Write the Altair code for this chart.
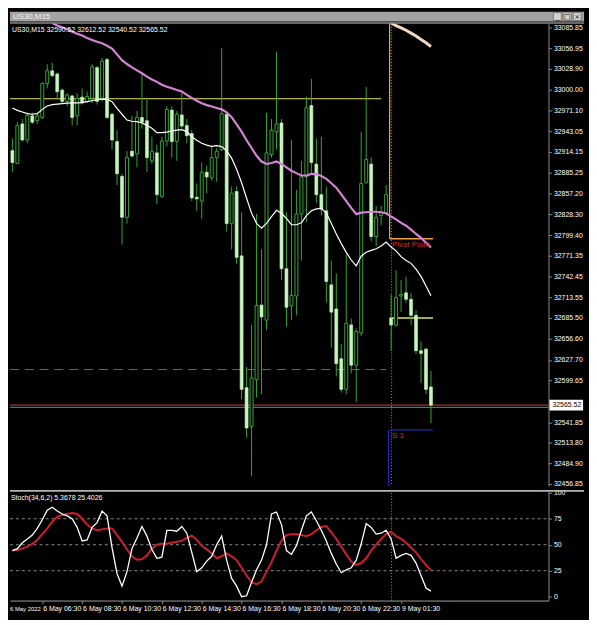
import altair as alt
import pandas as pd

# ---------------- data ----------------
bars = list(range(85))  # 15-minute bars: 6 May 05:00 ... 23:45, 9 May 01:00 ... 03:00

opens = [32916.1, 32898.4, 32952.9, 32930.7, 32964.0, 32957.3, 32961.8, 33008.4, 33026.1, 33021.7,
         32999.5, 32983.9, 32991.5, 32964.0, 32989.8, 32983.9, 32988.4, 33030.4, 32988.4, 33041.6,
         32966.2, 32928.6, 32880.7, 32824.3, 32915.3, 32911.7, 32961.8, 32957.3, 32902.0, 32913.0,
         32853.2, 32929.4, 32971.9, 32928.6, 32965.3, 32950.7, 32939.6, 32851.9, 32846.5, 32886.4,
         32878.8, 32906.4, 32917.4, 32966.2, 32815.5, 32859.8, 32771.1, 32589.5, 32536.3, 32600.5,
         32703.3, 32682.6, 32910.8, 32941.9, 32954.2, 32753.4, 32702.5, 32715.8, 32828.8, 32879.8,
         32978.2, 32897.5, 32855.4, 32833.2, 32731.2, 32698.0, 32629.4, 32587.2, 32676.0, 32620.5,
         32664.8, 32871.8, 32897.5, 32797.7, 32826.6, 32831.0, 32684.7, 32675.9, 32715.8, 32720.2,
         32711.3, 32689.2, 32640.4, 32642.7, 32590.52]
highs = [32933.0, 32955.2, 32959.6, 32968.5, 32968.5, 32968.5, 33010.5, 33035.0, 33037.1, 33023.8,
         33001.7, 32995.1, 32992.8, 32995.1, 33001.7, 32997.2, 33035.0, 33032.7, 33043.7, 33043.7,
         32968.5, 32944.0, 32884.2, 32915.3, 32964.0, 32970.6, 33021.7, 32986.2, 32935.2, 32924.1,
         32935.2, 32977.3, 32977.3, 32970.6, 32995.1, 32959.6, 32944.0, 32870.9, 32899.7, 32895.3,
         32921.9, 32919.7, 33057.0, 32968.5, 32866.5, 32866.5, 32831.0, 32618.2, 32675.9, 32828.8,
         32780.0, 32968.5, 32959.6, 33052.6, 32959.6, 32831.0, 32930.7, 32862.1, 32902.0, 32990.5,
         33015.0, 32933.0, 32935.2, 32866.5, 32764.5, 32746.8, 32649.3, 32773.4, 32684.7, 32671.4,
         32941.9, 33003.8, 32906.4, 32839.9, 32839.9, 32868.7, 32717.9, 32751.2, 32737.9, 32742.4,
         32720.2, 32695.9, 32653.7, 32644.8, 32612.52]
lows = [32886.4, 32897.5, 32928.6, 32926.3, 32952.9, 32952.9, 32959.6, 33001.7, 33017.1, 32988.4,
        32981.8, 32977.3, 32950.7, 32950.7, 32979.5, 32981.8, 32981.8, 32979.5, 32983.9, 32959.6,
        32917.4, 32868.7, 32786.7, 32815.5, 32906.4, 32893.1, 32946.3, 32886.4, 32897.5, 32842.1,
        32850.9, 32921.9, 32906.4, 32902.0, 32946.3, 32926.3, 32846.5, 32833.2, 32822.2, 32857.6,
        32875.4, 32873.1, 32915.3, 32804.4, 32780.0, 32760.1, 32573.9, 32520.7, 32467.5, 32576.2,
        32580.6, 32669.3, 32906.4, 32917.4, 32737.9, 32673.7, 32682.6, 32689.2, 32764.5, 32817.7,
        32884.2, 32844.3, 32826.6, 32706.9, 32644.8, 32604.9, 32582.8, 32580.6, 32609.4, 32569.5,
        32660.4, 32870.9, 32791.1, 32784.4, 32813.3, 32826.6, 32640.4, 32673.7, 32693.6, 32706.9,
        32676.0, 32636.0, 32596.1, 32580.6, 32540.52]
closes = [32899.7, 32950.7, 32930.7, 32964.9, 32955.2, 32964.0, 33008.4, 33026.1, 33019.4, 32997.2,
          32983.9, 32992.8, 32961.8, 32988.4, 32981.8, 32990.5, 33031.4, 32983.9, 33039.4, 32961.8,
          32930.7, 32884.2, 32824.3, 32906.4, 32908.6, 32961.8, 32955.2, 32906.4, 32915.3, 32855.4,
          32929.4, 32972.9, 32928.6, 32966.2, 32949.9, 32936.6, 32850.9, 32849.6, 32886.4, 32879.8,
          32906.4, 32915.3, 32967.1, 32815.5, 32857.6, 32769.0, 32587.2, 32534.0, 32602.8, 32702.5,
          32687.0, 32913.0, 32944.0, 32952.9, 32753.4, 32700.3, 32716.6, 32828.8, 32879.8, 32975.1,
          32899.7, 32855.4, 32835.5, 32735.8, 32693.6, 32622.7, 32587.2, 32678.1, 32620.5, 32667.0,
          32870.9, 32904.1, 32797.7, 32824.3, 32831.0, 32855.4, 32675.9, 32713.6, 32717.9, 32711.3,
          32689.2, 32640.4, 32636.8, 32587.2, 32565.52]

ma_white = [32974.9, 32971.5, 32969.3, 32967.1, 32966.2, 32967.1, 32972.9, 32977.5, 32979.5, 32980.2,
            32980.8, 32981.5, 32981.8, 32981.8, 32982.2, 32983.5, 32984.8, 32986.2, 32987.1, 32986.8,
            32983.5, 32974.2, 32966.2, 32958.2, 32956.5, 32956.0, 32954.2, 32950.9, 32946.9, 32940.9,
            32940.9, 32941.6, 32943.2, 32944.3, 32944.9, 32942.3, 32935.2, 32930.3, 32926.3, 32923.7,
            32921.9, 32923.0, 32921.7, 32915.7, 32905.7, 32890.4, 32871.8, 32850.5, 32829.9, 32815.9,
            32809.3, 32815.9, 32825.3, 32833.9, 32829.9, 32822.6, 32814.0, 32814.0, 32816.6, 32826.6,
            32833.2, 32835.9, 32836.6, 32829.9, 32815.9, 32801.3, 32788.0, 32776.0, 32765.4, 32757.4,
            32770.7, 32776.0, 32778.7, 32781.0, 32784.7, 32790.0, 32783.4, 32778.0, 32770.1, 32764.7,
            32760.8, 32752.8, 32742.8, 32729.5, 32716.2]

ma_magenta_bars = list(range(8, 85))
ma_magenta = [33091.9, 33088.6, 33085.9, 33083.2, 33079.9, 33077.2, 33074.6, 33071.3, 33068.6, 33066.0,
              33064.0, 33060.6, 33056.6, 33048.7, 33040.7, 33035.4, 33030.7, 33026.7, 33022.7, 33018.1,
              33014.1, 33010.8, 33006.8, 33004.1, 33002.1, 32999.7, 32997.5, 32992.8, 32988.8, 32984.8,
              32981.5, 32978.8, 32976.8, 32974.9, 32972.9, 32968.9, 32962.2, 32952.3, 32942.3, 32930.3,
              32919.7, 32909.0, 32901.1, 32897.7, 32899.1, 32901.1, 32897.7, 32893.1, 32888.4, 32885.1,
              32881.8, 32881.8, 32884.0, 32883.8, 32881.1, 32877.1, 32871.1, 32865.1, 32855.8, 32846.5,
              32837.2, 32828.6, 32830.6, 32831.2, 32831.9, 32831.9, 32831.2, 32829.9, 32825.3, 32821.3,
              32816.6, 32812.6, 32807.3, 32801.3, 32796.0, 32789.3, 32782.7]

ma_beige_bars = list(range(76, 85))
ma_beige = [33091.9, 33088.2, 33085.2, 33081.9, 33077.9, 33073.9, 33069.3, 33064.6, 33059.3]

stoch_k = [44.4, 46.3, 51.9, 55.6, 59.3, 65.7, 74.1, 83.3, 86.1, 82.4,
           79.6, 77.8, 75.0, 66.7, 53.7, 54.6, 66.7, 71.3, 82.4, 77.8,
           47.2, 22.2, 10.2, 24.1, 46.3, 56.5, 67.6, 58.3, 45.4, 37.0,
           38.0, 63.9, 63.9, 63.0, 67.6, 61.1, 42.6, 24.1, 27.8, 34.3,
           38.9, 50.0, 58.3, 35.2, 17.6, 10.2, 0.0, 0.9, 13.9, 25.9,
           35.2, 50.0, 79.6, 81.5, 69.4, 44.4, 40.7, 49.1, 63.9, 77.8,
           81.5, 73.1, 63.9, 53.7, 41.7, 31.5, 23.1, 25.9, 27.8, 35.2,
           50.9, 70.4, 66.7, 60.2, 61.1, 63.9, 55.6, 37.0, 39.8, 41.7,
           39.8, 32.4, 20.4, 8.3, 5.3678]
stoch_d = [44.4, 44.9, 46.3, 48.1, 50.9, 54.6, 60.2, 65.7, 72.2, 76.9,
           78.7, 79.6, 80.6, 79.6, 75.0, 69.4, 65.7, 63.9, 64.8, 65.7,
           65.7, 59.3, 52.8, 45.4, 38.9, 35.6, 36.1, 39.8, 46.3, 50.0,
           50.9, 50.9, 51.9, 52.8, 53.7, 56.5, 58.8, 54.6, 49.1, 45.4,
           41.7, 37.0, 38.9, 41.7, 38.9, 35.2, 27.8, 20.4, 13.9, 12.0,
           14.8, 24.1, 33.3, 44.4, 53.7, 59.3, 60.2, 60.2, 59.3, 58.3,
           60.2, 63.9, 67.1, 68.0, 62.0, 55.6, 48.1, 40.7, 33.8, 30.6,
           32.4, 37.0, 44.4, 50.0, 55.6, 60.2, 62.5, 58.3, 55.6, 51.9,
           47.2, 42.6, 36.1, 30.6, 25.4026]

price_ticks = [33085.85, 33056.95, 33028.90, 33000.00, 32971.10, 32943.05, 32914.15, 32885.25,
               32857.20, 32828.30, 32799.40, 32771.35, 32742.45, 32713.55, 32685.50, 32656.60,
               32627.70, 32599.65, 32541.85, 32513.80, 32484.90, 32456.85]
stoch_ticks = [0, 25, 50, 75, 100]
stoch_levels = [25, 50, 75]

time_tick_bars = [-2, 6, 14, 22, 30, 38, 46, 54, 62, 70, 78]
time_tick_labels = ["6 May 2022", "6 May 06:30", "6 May 08:30", "6 May 10:30", "6 May 12:30",
                    "6 May 14:30", "6 May 16:30", "6 May 18:30", "6 May 20:30", "6 May 22:30",
                    "9 May 01:30"]

symbol_title = "US30,M15"
info_text = "US30,M15  32590.52 32612.52 32540.52 32565.52"
stoch_text = "Stoch(34,6,2) 5.3678 25.4026"

prev_pivot, prev_pivot_end = 32987.5, 74
green_level, green_level_end = 32614.5, 75
bid_price, ask_line = 32565.52, 32562.4
pivot_point, monday_line, s1_level = 32794.7, 32685.6, 32531.4
day_sep_bar, pivot_start_bar, pivot_end_bar = 76.1, 75.7, 84.4
pivot_label_price, s1_label_price = 32786.7, 32523.4

# ---------------- layout ----------------
W, HM, HS, HL = 545, 468, 112, 12
FULLW = W + 36
FONT = "Liberation Sans"
X_DOM = [-0.48, 107.58]
P_DOM = [32454.2, 33091.2]
S_DOM = [-3.7, 102.8]
GREEN, PALE = "#3aa23a", "#c6f5bd"

xs = alt.Scale(domain=X_DOM, nice=False, zero=False, padding=0)
ys = alt.Scale(domain=P_DOM, nice=False, zero=False, padding=0)
ss = alt.Scale(domain=S_DOM, nice=False, zero=False, padding=0)

yax_main = alt.Axis(orient="right", values=price_ticks, format=".2f", labelColor="#ffffff",
                    labelFont=FONT, labelFontSize=7, tickColor="#8a8a8a", tickSize=3,
                    domainColor="#8a8a8a", labelOverlap=False, grid=False, title=None, labelPadding=2)
yax_s = alt.Axis(orient="right", values=stoch_ticks, labelColor="#ffffff", labelFont=FONT,
                 labelFontSize=7, tickColor="#8a8a8a", tickSize=3, domainColor="#8a8a8a",
                 labelOverlap=False, grid=False, title=None, labelPadding=2)
xax_s = alt.Axis(values=time_tick_bars[1:], labels=False, ticks=True, tickSize=3,
                 tickColor="#8a8a8a", domainColor="#a0a0a0", grid=False, title=None)


def MX(f="bar"):
    return alt.X(f"{f}:Q", scale=xs, axis=None)


def MY(f):
    return alt.Y(f"{f}:Q", scale=ys, axis=yax_main)


def SX(f="bar"):
    return alt.X(f"{f}:Q", scale=xs, axis=xax_s)


def SY(f):
    return alt.Y(f"{f}:Q", scale=ss, axis=yax_s)


one = pd.DataFrame({"a": [0]})


def hseg(x0, x1, p, color, width=1.0, dash=None):
    kw = dict(color=color, strokeWidth=width)
    if dash:
        kw["strokeDash"] = dash
    d = pd.DataFrame({"x0": [x0], "x1": [x1], "p": [p]})
    return alt.Chart(d).mark_rule(**kw).encode(x=MX("x0"), x2="x1", y=MY("p"))


def vseg(xb, p0, p1, color, width=1.0, dash=None):
    kw = dict(color=color, strokeWidth=width)
    if dash:
        kw["strokeDash"] = dash
    d = pd.DataFrame({"xb": [xb], "p0": [p0], "p1": [p1]})
    return alt.Chart(d).mark_rule(**kw).encode(x=MX("xb"), y=MY("p0"), y2="p1")


cdf = pd.DataFrame({"bar": bars, "o": opens, "h": highs, "l": lows, "c": closes})
up = cdf[cdf.c >= cdf.o]
dn = cdf[cdf.c < cdf.o]

wicks = alt.Chart(cdf).mark_rule(color=GREEN, strokeWidth=1).encode(x=MX(), y=MY("l"), y2="h")
bodies_up = alt.Chart(up).mark_bar(size=3, fill="#000000", stroke=GREEN, strokeWidth=1).encode(
    x=MX(), y=MY("o"), y2="c")
bodies_dn = alt.Chart(dn).mark_bar(size=3, fill=PALE, stroke=PALE, strokeWidth=0.6).encode(
    x=MX(), y=MY("o"), y2="c")

white_line = alt.Chart(pd.DataFrame({"bar": bars, "v": ma_white})).mark_line(
    color="#ffffff", strokeWidth=1.2, clip=True).encode(x=MX(), y=MY("v"))
magenta_line = alt.Chart(pd.DataFrame({"bar": ma_magenta_bars, "v": ma_magenta})).mark_line(
    color="#d683d6", strokeWidth=2.2, clip=True).encode(x=MX(), y=MY("v"))
beige_line = alt.Chart(pd.DataFrame({"bar": ma_beige_bars, "v": ma_beige})).mark_line(
    color="#f2d9c2", strokeWidth=3, clip=True).encode(x=MX(), y=MY("v"))

sep_main = alt.Chart(pd.DataFrame({"xb": [day_sep_bar]})).mark_rule(
    color="#9a9a9a", strokeWidth=1, strokeDash=[1, 2]).encode(
    x=MX("xb"), y=alt.value(0), y2=alt.value(HM))

texts = pd.DataFrame({"bar": [pivot_start_bar + 0.5, pivot_start_bar + 0.5],
                      "p": [pivot_label_price, s1_label_price],
                      "t": ["Pivot Point", "S 1"]})
level_text = alt.Chart(texts).mark_text(align="left", baseline="middle", color="#c83232",
                                         font=FONT, fontSize=8).encode(
    x=MX(), y=MY("p"), text="t:N")

title_bar = alt.Chart(one).mark_rect(color="#a3a3a3").encode(
    x=alt.value(0), x2=alt.value(FULLW), y=alt.value(-12), y2=alt.value(-2))
title_line = alt.Chart(one).mark_rule(color="#cfcfcf", strokeWidth=1).encode(
    x=alt.value(0), x2=alt.value(FULLW), y=alt.value(-0.5))
title_text = alt.Chart(one).mark_text(align="left", baseline="middle", color="#f4f4f4",
                                       font=FONT, fontSize=8, text=symbol_title).encode(
    x=alt.value(3), y=alt.value(-7))
btn_glyphs = ["_", "□", "×"]
btn_charts = []
for k, g in enumerate(btn_glyphs):
    bx = FULLW - 31 + 10 * k
    btn_charts.append(alt.Chart(one).mark_rect(fill="#d6d3cc", stroke="#505050", strokeWidth=0.6).encode(
        x=alt.value(bx), x2=alt.value(bx + 8), y=alt.value(-11), y2=alt.value(-3)))
    btn_charts.append(alt.Chart(one).mark_text(baseline="middle", color="#000000", font="DejaVu Sans",
                                               fontSize=7, text=g).encode(
        x=alt.value(bx + 4), y=alt.value(-7)))
info = alt.Chart(one).mark_text(align="left", baseline="middle", color="#ffffff", font=FONT,
                                 fontSize=7, text=info_text).encode(x=alt.value(2), y=alt.value(7))

bid_df = pd.DataFrame({"p": [bid_price], "t": [f"{bid_price:.2f}"]})
price_box = alt.Chart(bid_df).mark_rule(color="#ffffff", strokeWidth=11).encode(
    x=alt.value(W + 1), x2=alt.value(W + 35), y=MY("p"))
price_box_text = alt.Chart(bid_df).mark_text(align="left", baseline="middle", color="#000000",
                                             font=FONT, fontSize=7).encode(
    x=alt.value(W + 4), y=MY("p"), text="t:N")

main = alt.layer(
    hseg(X_DOM[0], prev_pivot_end, prev_pivot, "#e4e45c", 1.2),
    hseg(X_DOM[0], green_level_end, green_level, "#3a8a3a", 1.0, [9, 6]),
    hseg(X_DOM[0], X_DOM[1], ask_line, "#9a9a9a", 0.8),
    hseg(X_DOM[0], X_DOM[1], bid_price, "#d23c3c", 1.0),
    sep_main,
    vseg(pivot_start_bar, P_DOM[1], pivot_point, "#f0a040", 1.3),
    hseg(pivot_start_bar, pivot_end_bar, pivot_point, "#f0a040", 1.3),
    hseg(pivot_start_bar, pivot_end_bar, monday_line, "#e4e45c", 1.5),
    hseg(pivot_start_bar, pivot_end_bar, s1_level, "#2424b8", 1.3),
    vseg(pivot_start_bar - 0.2, s1_level, P_DOM[0], "#2424b8", 1.3),
    wicks, bodies_up, bodies_dn,
    magenta_line, white_line, beige_line,
    level_text, info, price_box, price_box_text,
    title_bar, title_line, title_text, *btn_charts,
).properties(width=W, height=HM)

# ---------------- stochastic panel ----------------
sdf = pd.DataFrame({"bar": bars, "k": stoch_k, "d": stoch_d})
s_grid = alt.Chart(pd.DataFrame({"g": stoch_levels})).mark_rule(
    color="#8a8a8a", strokeWidth=1, strokeDash=[3, 3]).encode(
    x=alt.value(0), x2=alt.value(W), y=SY("g"))
s_sep = alt.Chart(pd.DataFrame({"xb": [day_sep_bar]})).mark_rule(
    color="#9a9a9a", strokeWidth=1, strokeDash=[1, 2]).encode(
    x=SX("xb"), y=alt.value(0), y2=alt.value(HS))
s_d = alt.Chart(sdf).mark_line(color="#cc1f2e", strokeWidth=2).encode(x=SX(), y=SY("d"))
s_k = alt.Chart(sdf).mark_line(color="#ffffff", strokeWidth=1.3).encode(x=SX(), y=SY("k"))
s_text = alt.Chart(one).mark_text(align="left", baseline="middle", color="#ffffff", font=FONT,
                                   fontSize=7, text=stoch_text).encode(
    x=alt.value(1), y=alt.value(8))
s_top = alt.Chart(one).mark_rule(color="#b4b4b4", strokeWidth=2).encode(
    x=alt.value(0), x2=alt.value(FULLW), y=alt.value(1))

stoch = alt.layer(s_grid, s_sep, s_d, s_k, s_text, s_top).properties(width=W, height=HS)

# ---------------- time labels ----------------
tdf = pd.DataFrame({"bar": time_tick_bars, "lab": time_tick_labels})
first_lab = alt.Chart(tdf.iloc[:1]).transform_calculate(
    xb=f"max(datum.bar, {X_DOM[0]})").mark_text(
    align="left", baseline="middle", color="#ffffff", font=FONT, fontSize=6).encode(
    x=alt.X("xb:Q", scale=xs, axis=None), y=alt.value(5), text="lab:N")
other_labs = alt.Chart(tdf.iloc[1:]).mark_text(
    align="left", baseline="middle", color="#ffffff", font=FONT, fontSize=7, dx=1).encode(
    x=alt.X("bar:Q", scale=xs, axis=None), y=alt.value(5), text="lab:N")
time_labels = alt.layer(first_lab, other_labs).properties(width=W, height=HL)

chart = alt.vconcat(main, stoch, time_labels, spacing=0).properties(
    padding={"left": 0, "top": 0, "right": 0, "bottom": 0}
).configure(background="#000000").configure_view(stroke=None)

chart.save("out.html", embed_options={"renderer": "svg", "actions": False})
